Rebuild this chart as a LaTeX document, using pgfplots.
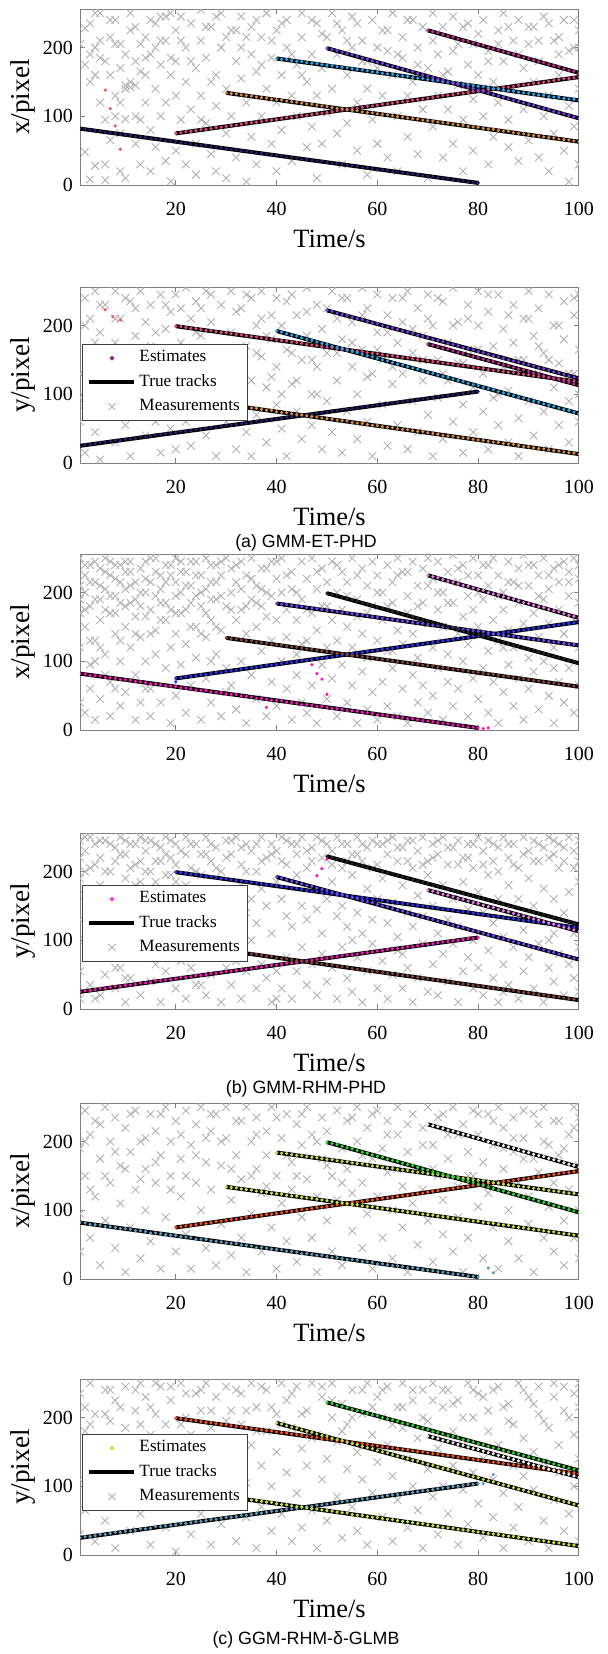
\documentclass[border=0pt]{standalone}
\usepackage{fontspec}
\setmainfont{Liberation Serif}
\newfontfamily\capfam{Liberation Sans}
\usepackage{pgfplots}
\pgfplotsset{compat=1.18}
\usepackage{pgfplotstable}

\definecolor{aT1}{RGB}{40,30,110}
\definecolor{aT2}{RGB}{225,70,130}
\definecolor{aT3}{RGB}{215,140,60}
\definecolor{aT4}{RGB}{30,170,240}
\definecolor{aT5}{RGB}{120,60,240}
\definecolor{aT6}{RGB}{200,40,150}
\definecolor{aOut}{RGB}{235,90,90}
\definecolor{aLeg}{RGB}{140,40,130}
\definecolor{bT1}{RGB}{255,20,190}
\definecolor{bT2}{RGB}{40,50,250}
\definecolor{bT3}{RGB}{130,70,60}
\definecolor{bT4}{RGB}{110,70,255}
\definecolor{bT5}{RGB}{35,35,35}
\definecolor{bT6}{RGB}{240,120,240}
\definecolor{bLeg}{RGB}{255,60,200}
\definecolor{cT1}{RGB}{90,160,190}
\definecolor{cT2}{RGB}{255,80,20}
\definecolor{cT3}{RGB}{200,230,60}
\definecolor{cT4}{RGB}{190,220,70}
\definecolor{cT5}{RGB}{40,220,40}
\definecolor{cT6}{RGB}{235,235,225}
\definecolor{cLeg}{RGB}{200,230,60}

\pgfplotstableread{
t x y
1 82 25
2 81.5 26.5
3 79.5 27
4 79 28
5 78.5 30
6 76.5 30
7 76 31.5
8 75 33
9 73.5 33
10 73 34.5
11 72.5 35
12 70.5 36
13 70 38
14 69 38
15 67 39
16 67 41.5
17 66 41
18 64.5 42.5
19 64 43
20 63.5 44
21 61.5 46
22 61 46
23 60 47
24 58 48.5
25 58 49
26 57.5 50
27 55.5 51.5
28 55 52
29 54 53.5
30 52.5 54.5
31 52 55
32 51.5 56
33 49.5 57.5
34 49 58
35 48 59
36 46 60.5
37 46 61
38 45 62.5
39 43.5 63.5
40 43 64
41 42.5 65
42 40.5 66.5
43 40 67
44 39 68
45 37 69.5
46 37 70
47 36 71
48 34.5 72.5
49 34.5 73
50 33 74
51 31.5 75.5
52 31 76
53 30 77.5
54 28.5 78.5
55 28 79
56 27.5 80
57 25.5 81.5
58 25 82
59 24 83
60 22 84.5
61 22 85
62 21 86.5
63 19.5 87.5
64 19 88
65 18 89
66 16.5 90.5
67 16.5 91
68 15 92
69 13.5 93.5
70 13 94
71 12 95
72 10.5 96.5
73 10 97.5
74 9 98
75 7.5 99.5
76 7 100
77 6 101
78 4.5 102.5
79 4 103
80 3 104
}\TrA

\pgfplotstableread{
t x y
20 75 199
21 76 198.5
22 77.5 197
23 78 196
24 79 195.5
25 80.5 194
26 81 193
27 82 192.5
28 83.5 191
29 84 190
30 85.5 189.5
31 86.5 188
32 87 187
33 88.5 186.5
34 90 185
35 90.5 184
36 91.5 183.5
37 92.5 182
38 94 181
39 94.5 180.5
40 95.5 179
41 96.5 178
42 98 177.5
43 98.5 176
44 99.5 175
45 101 174
46 101.5 172.5
47 102.5 171.5
48 104 171
49 104.5 169.5
50 105.5 168.5
51 106.5 168
52 108 166.5
53 109 165.5
54 110 165
55 111.5 163.5
56 112 162.5
57 113 162
58 114.5 160.5
59 115 159.5
60 116 159
61 117.5 157.5
62 118 156.5
63 119 156
64 120.5 154.5
65 121 153.5
66 122 153
67 123.5 151.5
68 124 150.5
69 125 150
70 126.5 148.5
71 127.5 147.5
72 128.5 147
73 130 145.5
74 130.5 144.5
75 131.5 144
76 133 142.5
77 133.5 141.5
78 134.5 141
79 136 139.5
80 136.5 138.5
81 137.5 137.5
82 139 136
83 139.5 135
84 140.5 134.5
85 142 133
86 142.5 132
87 143.5 131.5
88 145 130
89 145.5 129
90 146.5 128.5
91 148 127
92 148.5 126
93 149.5 125.5
94 151 124
95 152 123
96 153 122.5
97 154.5 121
98 155 120
99 156 119.5
100 157 118
}\TrB

\pgfplotstableread{
t x y
30 134 85
31 133 84
32 132.5 83
33 131 82.5
34 130 81
35 129.5 80
36 128 79.5
37 127 78
38 126.5 77
39 125 76.5
40 124 74.5
41 123.5 73.5
42 122 73
43 121 71.5
44 120.5 70.5
45 119 70
46 118 68.5
47 117.5 67.5
48 116 67
49 115 65.5
50 114 64.5
51 112.5 64
52 111.5 62.5
53 111 61.5
54 109.5 61
55 108.5 59
56 108 58
57 106.5 57.5
58 105.5 56
59 105 55
60 103.5 54.5
61 102.5 53
62 102 52
63 100.5 51.5
64 99.5 50
65 99 49
66 97.5 48.5
67 96.5 47
68 96 46
69 94.5 45.5
70 93.5 44
71 93 43
72 91.5 42
73 90.5 40.5
74 90 39.5
75 88.5 39
76 87.5 37.5
77 87 36.5
78 85.5 36
79 84.5 34.5
80 84 33.5
81 82.5 33
82 81.5 31.5
83 81 30.5
84 79.5 30
85 78.5 28.5
86 78 27.5
87 76 27
88 75 25.5
89 74.5 24
90 73 23.5
91 72 22
92 71.5 21
93 70 20.5
94 69 19
95 68.5 18
96 67 17.5
97 66 16
98 65.5 15
99 64 14.5
100 63 13
}\TrC

\pgfplotstableread{
t x y
40 184 192
41 183 190.5
42 182.5 188
43 181 186
44 180 184.5
45 179.5 182
46 178 180
47 177 178.5
48 176.5 176
49 175 174
50 174 172.5
51 173.5 170
52 172 168
53 171 166.5
54 170.5 164
55 169 162
56 168 160.5
57 167.5 158
58 166 156
59 164.5 154.5
60 164 152
61 162.5 150
62 161.5 148.5
63 161 146
64 159.5 144
65 158.5 142.5
66 158 140
67 156.5 138
68 155.5 136.5
69 155 134
70 153.5 132
71 152.5 130.5
72 152 128
73 150.5 126
74 149.5 124.5
75 149 122
76 147.5 120
77 146.5 118.5
78 146 116
79 144.5 114
80 143.5 112.5
81 143 110
82 141.5 108
83 140 106.5
84 139.5 104
85 138 102
86 137 100.5
87 136.5 98
88 135 96
89 134 94.5
90 133.5 92
91 132 90
92 131 88.5
93 130.5 86
94 129 84
95 128 82.5
96 127.5 80
97 126 78
98 125 76.5
99 124.5 74
100 123 72
}\TrD

\pgfplotstableread{
t x y
50 199 222
51 197 220.5
52 195.5 218
53 193 216
54 191 214.5
55 189.5 212
56 187 210
57 184.5 208.5
58 183 206
59 180.5 204
60 178.5 202.5
61 177 200
62 174.5 198
63 172.5 196.5
64 171 194.5
65 168.5 192
66 166.5 190.5
67 165 188.5
68 162.5 186
69 160 184.5
70 158.5 182.5
71 156 180
72 154 178.5
73 152.5 176.5
74 150 174
75 148 172.5
76 146.5 170.5
77 144 168
78 142 166.5
79 140.5 164.5
80 138 162
81 136 160.5
82 134 158.5
83 131.5 156
84 129.5 154.5
85 128 152.5
86 125.5 150
87 123.5 148.5
88 122 147
89 119.5 144.5
90 117.5 143
91 116 141
92 113.5 138.5
93 111.5 137
94 110 135
95 107 132.5
96 105 131
97 103.5 129
98 101 126.5
99 99 125
100 97 123
}\TrE

\pgfplotstableread{
t x y
70 225 173
71 223 171.5
72 221.5 169
73 219 167
74 216.5 165.5
75 215 163
76 212.5 161
77 210.5 159.5
78 209 157
79 206.5 155
80 204.5 153.5
81 203 151
82 200 149
83 198 147.5
84 196.5 145
85 194 143
86 192 141.5
87 190.5 139
88 188 137
89 185.5 135.5
90 184 133
91 181.5 131
92 179.5 129.5
93 178 127
94 175.5 125
95 173.5 123.5
96 172 121
97 169 119
98 167 117.5
99 165.5 115
100 163 113
}\TrF

\pgfplotsset{
  panel/.style={
    scale only axis, width=249.5pt, height=88pt,
    xmin=1, xmax=100, ymin=0, ymax=256,
    xtick={20,40,60,80,100}, ytick={0,100,200},
    tick align=inside, major tick length=2.5pt,
    xtick pos=both, ytick pos=both, xticklabel pos=lower, yticklabel pos=left,
    axis line style={black!50, line width=0.5pt},
    tick style={black!50, line width=0.5pt},
    ticklabel style={font=\fontsize{10}{12}\selectfont, text=black},
    xticklabel style={yshift=-5.2pt},
    /pgf/number format/assume math mode=true,
    xlabel={Time/s},
    xlabel style={at={(axis description cs:0.5,0)}, anchor=base, yshift=-31pt, font=\fontsize{13.2}{15}\selectfont, inner sep=0pt},
    ylabel style={at={(axis description cs:-0.1142,0.5)}, anchor=center, font=\fontsize{13.6}{15}\selectfont, inner sep=0pt},
    clip marker paths=true,
    legend cell align=left,
    legend style={anchor=north west, draw=black!75, line width=0.5pt, fill=white,
      font=\fontsize{8.6}{9}\selectfont, inner xsep=2.5pt, inner ysep=2pt, row sep=2.3pt,
      nodes={inner xsep=1.5pt, inner ysep=1pt, text depth=0.2em}},
  },
  clut/.style={only marks, mark=x, mark size=2.7pt, color=black!30, mark options={line width=0.45pt}, forget plot},
  trk/.style={black, line width=2pt, forget plot},
  est/.style={only marks, mark=*, mark size=0.6pt, color=#1, forget plot},
  legline/.style={legend image code/.code={\draw[##1] (0pt,0pt) -- (22.5pt,0pt);}},
  legmark/.style={legend image code/.code={\draw[##1] plot coordinates {(11.25pt,0pt)};}},
}

\begin{document}
\begin{tikzpicture}
\useasboundingbox (0,0) rectangle (304pt,-827pt);

% ---------------- Panel 1 : (a) x ----------------
\begin{axis}[panel, at={(40pt,-4.5pt)}, anchor=north west, ylabel={x/pixel}]
\addplot[clut] coordinates {(1,205)(2,228)(2,48)(3,190)(3,150)(3,8)(4,250)(4,200)(4,28)(5,185)(5,250)(5,120)(6,95)(6,30)(6,7)(7,215)(7,160)(7,65)(8,240)(8,130)(8,100)(9,205)(9,170)(9,75)(9,20)(10,190)(10,96)(10,145)(10,10)
(11,142)(11,225)(11,250)(12,100)(12,60)(12,180)(13,95)(13,205)(13,30)(14,185)(14,160)(14,120)(15,240)(15,80)(15,20)(16,200)(16,140)(16,55)(17,245)(17,175)(17,100)(18,210)(18,120)(18,35)(19,250)(19,160)(19,5)(20,225)(20,180)(20,50)(20,130)
(21,245)(21,95)(22,200)(22,150)(22,30)(23,235)(23,110)(24,170)(24,60)(24,15)(25,255)(25,210)(25,130)(26,185)(26,90)(27,230)(27,45)(28,160)(28,115)(28,20)(29,250)(29,200)(30,140)(30,75)(30,10)
(31,225)(31,100)(32,180)(32,40)(33,245)(33,155)(34,215)(34,120)(34,5)(35,190)(35,70)(36,240)(36,165)(36,30)(37,215)(37,100)(38,250)(38,140)(39,185)(39,60)(40,225)(40,120)(40,20)
(41,160)(41,80)(42,240)(42,200)(43,130)(43,35)(44,175)(44,100)(45,250)(45,215)(46,150)(46,55)(47,190)(47,85)(48,235)(48,130)(48,10)(49,170)(49,60)(50,215)(50,105)
(51,250)(51,140)(52,190)(52,75)(53,225)(53,30)(54,160)(54,90)(55,245)(55,200)(56,120)(56,50)(57,210)(57,180)(58,140)(58,15)(59,240)(59,95)(60,170)(60,60)
(61,225)(61,130)(62,195)(62,40)(63,250)(63,160)(64,100)(64,20)(65,215)(65,185)(66,130)(66,70)(67,240)(67,150)(68,200)(68,45)(69,110)(69,230)(70,170)(70,10)
(71,250)(71,85)(72,190)(72,130)(73,230)(73,40)(74,165)(74,110)(75,245)(75,60)(76,205)(76,145)(77,95)(77,20)(78,235)(78,175)(79,125)(79,50)(80,220)(80,160)
(81,240)(81,100)(82,195)(82,30)(83,150)(83,70)(84,225)(84,120)(85,250)(85,180)(86,55)(86,95)(87,210)(87,140)(88,240)(88,35)(89,170)(89,110)(90,205)(90,65)
(91,230)(91,150)(92,180)(92,40)(93,245)(93,100)(94,130)(94,20)(95,210)(95,75)(96,190)(96,160)(97,240)(97,50)(98,115)(98,5)(99,200)(99,85)(100,225)(100,140)(100,30)};
\addplot[clut] coordinates {(2,175)(3,235)(4,160)(5,210)(6,180)(7,240)(8,205)(9,120)(10,140)(11,150)(12,145)(12,230)(13,165)(14,215)(15,190)(16,235)(17,210)(18,245)(19,185)(21,210)(23,180)(25,95)(26,230)(27,150)(28,245)(30,215)(32,225)(33,200)(35,230)(37,175)(39,210)(41,235)(43,190)(45,160)(47,240)(49,220)(52,235)(54,210)(56,235)(58,180)(60,200)(62,225)(64,190)(66,240)(68,175)(71,210)(73,160)(75,195)(77,230)(79,205)(82,180)(84,205)(86,230)(88,190)(90,230)(92,210)(94,235)(96,215)(98,195)(99,240)(100,200)};
\addplot[trk] coordinates {(1,82)(80,3)};
\addplot[trk] coordinates {(20,75)(100,157)};
\addplot[trk] coordinates {(30,134)(100,63)};
\addplot[trk] coordinates {(40,184)(100,123)};
\addplot[trk] coordinates {(50,199)(100,97)};
\addplot[trk] coordinates {(70,225)(100,163)};
\addplot[est=aT1] table[x=t,y=x] {\TrA};
\addplot[est=aT2] table[x=t,y=x] {\TrB};
\addplot[est=aT3] table[x=t,y=x] {\TrC};
\addplot[est=aT4] table[x=t,y=x] {\TrD};
\addplot[est=aT5] table[x=t,y=x] {\TrE};
\addplot[est=aT6] table[x=t,y=x] {\TrF};
\addplot[est=aOut] coordinates {(6,138)(7,111)(8,86)(9,52)};
\end{axis}

% ---------------- Panel 2 : (a) y ----------------
\begin{axis}[panel, at={(40pt,-143.5pt)}, anchor=north west, ylabel={y/pixel},
  legend style={at={(axis description cs:0.004,0.676)}}]
\addlegendimage{legmark, only marks, mark=*, mark size=0.9pt, color=aLeg}
\addlegendentry{Estimates}
\addlegendimage{legline, black, line width=2pt}
\addlegendentry{True tracks}
\addlegendimage{legmark, only marks, mark=x, mark size=2.5pt, color=black!30, mark options={line width=0.45pt}}
\addlegendentry{Measurements}
\addplot[clut] coordinates {(1,60)(1,130)(2,240)(2,85)(2,15)(3,210)(3,165)(4,100)(4,45)(4,250)(5,190)(5,5)(6,140)(6,230)(7,75)(7,120)(8,250)(8,175)(8,30)(9,95)(9,210)(10,160)(10,55)(11,235)(11,120)(11,10)(12,185)(12,70)(13,250)(13,140)(14,205)(14,40)(14,95)(15,170)(15,230)(16,60)(16,125)(17,245)(17,15)(18,195)(18,150)(18,90)(19,220)(19,50)(20,130)(20,245)(20,20)
(21,175)(21,100)(22,255)(22,60)(23,210)(23,150)(23,25)(24,120)(24,235)(25,80)(25,185)(26,250)(26,40)(27,140)(27,205)(28,100)(28,10)(29,230)(29,165)(30,60)(30,125)(31,250)(31,190)(32,20)(32,150)(33,225)(33,95)(34,45)(34,170)(35,240)(35,120)(35,10)(36,200)(36,70)(37,155)(37,250)(38,110)(38,30)(39,215)(39,180)(40,85)(40,240)(40,140)
(41,50)(41,200)(42,10)(42,165)(43,245)(43,115)(44,75)(44,215)(45,150)(45,35)(46,255)(46,185)(47,100)(47,55)(48,230)(48,140)(49,20)(49,195)(50,160)(50,90)(51,250)(51,45)(52,210)(52,120)(53,180)(53,15)(54,240)(54,75)(55,140)(55,205)(56,35)(56,100)(57,255)(57,165)(58,60)(58,225)(59,130)(59,10)(60,190)(60,245)
(61,85)(61,150)(62,215)(62,25)(63,115)(63,240)(64,175)(64,55)(65,205)(65,130)(66,250)(66,20)(67,90)(67,160)(68,225)(68,45)(69,185)(69,120)(70,245)(70,70)(71,10)(71,200)(72,150)(72,95)(73,235)(73,35)(74,175)(74,120)(75,255)(75,60)(76,205)(76,145)(77,85)(77,15)(78,230)(78,165)(79,110)(79,45)(80,200)(80,250)
(81,130)(81,75)(82,220)(82,20)(83,170)(83,95)(84,245)(84,55)(85,195)(85,140)(86,30)(86,105)(87,230)(87,175)(88,65)(88,10)(89,210)(89,150)(90,250)(90,90)(91,40)(91,185)(92,130)(92,225)(93,75)(93,160)(94,245)(94,20)(95,200)(95,110)(96,145)(96,55)(97,235)(97,180)(98,90)(98,30)(99,215)(99,130)(100,245)(100,165)(100,60)(100,100)};
\addplot[clut] coordinates {(1,95)(2,200)(3,120)(4,175)(5,230)(6,100)(7,160)(8,210)(9,140)(10,240)(11,70)(12,225)(13,105)(14,160)(15,125)(16,190)(17,85)(18,230)(19,140)(21,225)(22,135)(23,75)(24,190)(25,225)(26,110)(27,245)(28,160)(29,100)(31,145)(32,220)(33,130)(34,245)(36,160)(37,210)(38,185)(39,125)(41,100)(42,235)(43,160)(44,120)(46,220)(47,150)(48,100)(50,225)(52,160)(53,240)(55,175)(57,215)(58,125)(60,165)(62,190)(63,140)(65,240)(67,195)(69,150)(70,210)(72,240)(73,130)(75,200)(77,145)(78,210)(80,165)(82,245)(84,100)(86,215)(88,150)(90,210)(92,170)(94,150)(96,200)(98,130)(99,240)};
\addplot[trk] coordinates {(1,25)(80,104)};
\addplot[trk] coordinates {(20,199)(100,118)};
\addplot[trk] coordinates {(30,85)(100,13)};
\addplot[trk] coordinates {(40,192)(100,72)};
\addplot[trk] coordinates {(50,222)(100,123)};
\addplot[trk] coordinates {(70,173)(100,113)};
\addplot[est=aT1] table[x=t,y=y] {\TrA};
\addplot[est=aT2] table[x=t,y=y] {\TrB};
\addplot[est=aT3] table[x=t,y=y] {\TrC};
\addplot[est=aT4] table[x=t,y=y] {\TrD};
\addplot[est=aT5] table[x=t,y=y] {\TrE};
\addplot[est=aT6] table[x=t,y=y] {\TrF};
\addplot[est=aOut] coordinates {(6,223)(7.5,213)(9,208)};
\end{axis}

% ---------------- Panel 3 : (b) x ----------------
\begin{axis}[panel, at={(40pt,-277pt)}, anchor=north west, ylabel={x/pixel}]
\addplot[clut] coordinates {(1,250)(1,170)(1,120)(1,40)(2,225)(2,200)(2,150)(2,25)(3,240)(3,180)(3,95)(3,60)(4,215)(4,130)(4,15)(5,235)(5,190)(5,160)(5,45)(6,250)(6,205)(6,110)(7,225)(7,170)(7,70)(7,20)(8,240)(8,195)(8,140)(9,215)(9,100)(9,35)(10,230)(10,180)(10,150)(10,55)
(11,245)(11,210)(11,120)(12,190)(12,165)(12,80)(12,15)(13,235)(13,135)(13,40)(14,220)(14,200)(14,100)(15,250)(15,175)(15,60)(15,20)(16,230)(16,145)(16,110)(17,205)(17,185)(17,40)(18,240)(18,160)(18,90)(19,225)(19,120)(19,10)(20,250)(20,195)(20,140)(20,50)
(21,230)(21,170)(21,95)(22,210)(22,125)(22,25)(23,245)(23,185)(23,65)(24,225)(24,150)(24,105)(25,200)(25,180)(25,15)(26,250)(26,135)(26,75)(27,215)(27,160)(27,40)(28,240)(28,190)(28,110)(29,225)(29,145)(29,20)(30,180)(30,250)(30,90)(30,55)
(31,235)(31,200)(31,65)(32,215)(32,160)(32,30)(33,245)(33,175)(33,100)(34,225)(34,140)(34,10)(35,190)(35,250)(35,80)(36,210)(36,150)(36,45)(37,235)(37,180)(37,115)(38,200)(38,165)(38,20)(39,245)(39,130)(39,70)(40,220)(40,160)(40,35)
(41,250)(41,200)(41,100)(42,175)(42,135)(42,60)(43,230)(43,205)(43,15)(44,160)(44,110)(44,80)(45,245)(45,190)(45,40)(46,220)(46,130)(46,25)(47,250)(47,170)(47,65)(48,205)(48,145)(48,10)(49,235)(49,180)(49,95)(50,215)(50,120)(50,45)
(51,245)(51,160)(51,75)(52,200)(52,130)(52,20)(53,230)(53,175)(53,95)(54,215)(54,150)(54,40)(55,250)(55,120)(55,65)(56,190)(56,165)(56,10)(57,235)(57,140)(57,85)(58,210)(58,105)(58,30)(59,245)(59,180)(59,55)(60,225)(60,130)(60,15)
(61,200)(61,160)(61,70)(62,240)(62,115)(62,35)(63,215)(63,185)(63,90)(64,250)(64,145)(64,20)(65,230)(65,125)(65,60)(66,195)(66,170)(66,10)(67,245)(67,140)(67,80)(68,210)(68,105)(68,40)(69,235)(69,185)(69,65)(70,250)(70,155)(70,25)
(71,220)(71,120)(71,50)(72,245)(72,175)(72,90)(73,200)(73,150)(73,15)(74,230)(74,110)(74,70)(75,255)(75,185)(75,35)(76,215)(76,140)(76,60)(77,240)(77,165)(77,100)(78,195)(78,125)(78,20)(79,250)(79,175)(79,75)(80,225)(80,150)(80,45)
(81,240)(81,190)(81,90)(82,210)(82,115)(82,25)(83,250)(83,160)(83,70)(84,225)(84,130)(84,10)(85,200)(85,175)(85,55)(86,245)(86,145)(86,95)(87,215)(87,120)(87,35)(88,235)(88,185)(88,75)(89,255)(89,155)(89,15)(90,210)(90,105)(90,60)
(91,240)(91,170)(91,85)(92,225)(92,135)(92,30)(93,250)(93,190)(93,100)(94,205)(94,155)(94,50)(95,235)(95,120)(95,10)(96,215)(96,175)(96,70)(97,245)(97,140)(97,40)(98,230)(98,195)(98,90)(99,250)(99,160)(99,25)(100,220)(100,120)(100,65)(100,185)};
\addplot[clut] coordinates {(1,210)(1,190)(2,175)(2,240)(3,215)(3,130)(4,245)(4,190)(4,100)(5,210)(5,120)(6,230)(6,175)(6,80)(7,245)(7,195)(8,220)(8,170)(8,60)(9,240)(9,185)(9,130)(10,205)(10,245)(11,185)(11,230)(12,215)(12,140)(13,200)(13,180)(14,245)(14,165)(15,215)(15,140)(16,195)(16,250)(17,225)(17,160)(18,215)(18,185)(19,240)(19,175)(20,215)(20,170)(21,200)(21,245)(22,175)(22,230)(23,210)(23,150)(24,195)(24,245)(25,225)(25,140)(26,205)(26,170)(27,240)(27,190)(28,215)(28,150)(29,195)(29,245)(31,175)(32,240)(33,205)(34,180)(35,220)(36,185)(37,205)(38,235)(39,195)(40,245)(42,225)(44,200)(46,175)(48,230)(50,180)(52,240)(54,195)(56,225)(58,170)(60,200)(62,180)(64,225)(66,230)(68,180)(70,210)(72,200)(74,185)(76,235)(78,225)(80,200)(82,240)(84,195)(86,215)(88,210)(90,240)(92,195)(94,225)(96,240)(98,215)(100,240)(14,60)(27,100)(45,125)(63,115)(85,120)(95,90)};
\addplot[trk] coordinates {(1,82)(80,3)};
\addplot[trk] coordinates {(20,75)(100,157)};
\addplot[trk] coordinates {(30,134)(100,63)};
\addplot[trk] coordinates {(40,184)(100,123)};
\addplot[trk] coordinates {(50,199)(100,97)};
\addplot[trk] coordinates {(70,225)(100,163)};
\addplot[est=bT1] table[x=t,y=x] {\TrA};
\addplot[est=bT2] table[x=t,y=x] {\TrB};
\addplot[est=bT3] table[x=t,y=x] {\TrC};
\addplot[est=bT4] table[x=t,y=x] {\TrD};
\addplot[est=bT5] table[x=t,y=x] {\TrE};
\addplot[est=bT6] table[x=t,y=x] {\TrF};
\addplot[est=bT1] coordinates {(38,33)(47,95)(48,82)(49,74)(50,52)(81,2)(82,3)};
\addplot[est=bT2] coordinates {(20,70)};
\end{axis}

% ---------------- Panel 4 : (b) y ----------------
\begin{axis}[panel, at={(40pt,-416.5pt)}, anchor=north west, ylabel={y/pixel},
  legend style={at={(axis description cs:0.004,0.705)}}]
\addlegendimage{legmark, only marks, mark=*, mark size=0.9pt, color=bLeg}
\addlegendentry{Estimates}
\addlegendimage{legline, black, line width=2pt}
\addlegendentry{True tracks}
\addlegendimage{legmark, only marks, mark=x, mark size=2.5pt, color=black!30, mark options={line width=0.45pt}}
\addlegendentry{Measurements}
\addplot[clut] coordinates {(1,245)(1,190)(1,55)(1,15)(2,230)(2,165)(2,100)(3,250)(3,205)(3,35)(4,240)(4,140)(4,75)(5,220)(5,180)(5,20)(6,245)(6,120)(6,50)(7,200)(7,160)(7,85)(8,235)(8,215)(8,30)(9,250)(9,145)(9,60)(10,225)(10,190)(10,10)(10,95)
(11,240)(11,170)(11,45)(12,210)(12,130)(12,75)(13,250)(13,185)(13,20)(14,230)(14,155)(14,90)(15,245)(15,200)(15,40)(16,215)(16,120)(16,65)(17,235)(17,175)(17,10)(18,250)(18,140)(18,55)(19,220)(19,195)(19,85)(20,240)(20,160)(20,30)
(21,230)(21,125)(21,70)(22,250)(22,180)(22,15)(23,205)(23,145)(23,60)(24,240)(24,115)(24,35)(25,225)(25,195)(25,85)(26,250)(26,155)(26,20)(27,215)(27,170)(27,50)(28,235)(28,130)(28,95)(29,200)(29,175)(29,10)(30,245)(30,140)(30,60)
(31,225)(31,155)(31,35)(32,250)(32,120)(32,70)(33,210)(33,180)(33,15)(34,240)(34,140)(34,55)(35,230)(35,160)(35,100)(36,200)(36,125)(36,30)(37,250)(37,175)(37,65)(38,220)(38,150)(38,45)(39,240)(39,110)(39,10)(40,230)(40,185)(40,55)
(41,250)(41,160)(41,30)(42,210)(42,135)(42,75)(43,240)(43,120)(43,15)(44,225)(44,195)(44,55)(45,250)(45,150)(45,90)(46,205)(46,130)(46,35)(47,235)(47,175)(47,65)(48,250)(48,145)(48,20)(49,220)(49,110)(49,80)(50,240)(50,160)(50,40)
(51,230)(51,185)(51,60)(52,250)(52,135)(52,15)(53,205)(53,150)(53,90)(54,240)(54,120)(54,45)(55,225)(55,195)(55,25)(56,250)(56,140)(56,75)(57,215)(57,110)(57,10)(58,235)(58,175)(58,55)(59,245)(59,130)(59,95)(60,210)(60,160)(60,30)
(61,240)(61,190)(61,70)(62,225)(62,125)(62,15)(63,250)(63,155)(63,50)(64,215)(64,105)(64,85)(65,235)(65,180)(65,30)(66,245)(66,140)(66,60)(67,205)(67,120)(67,10)(68,230)(68,165)(68,45)(69,250)(69,135)(69,95)(70,215)(70,195)(70,25)
(71,240)(71,150)(71,65)(72,225)(72,110)(72,20)(73,250)(73,180)(73,80)(74,210)(74,130)(74,40)(75,235)(75,160)(75,95)(76,245)(76,120)(76,10)(77,220)(77,185)(77,55)(78,240)(78,145)(78,75)(79,205)(79,100)(79,30)(80,250)(80,170)(80,60)
(81,230)(81,140)(81,20)(82,245)(82,195)(82,85)(83,215)(83,125)(83,45)(84,235)(84,160)(84,10)(85,250)(85,105)(85,65)(86,220)(86,180)(86,35)(87,240)(87,135)(87,90)(88,205)(88,160)(88,15)(89,250)(89,115)(89,55)(90,230)(90,190)(90,75)
(91,245)(91,150)(91,30)(92,215)(92,130)(92,95)(93,235)(93,175)(93,10)(94,250)(94,100)(94,60)(95,225)(95,160)(95,40)(96,240)(96,205)(96,80)(97,215)(97,140)(97,20)(98,250)(98,170)(98,65)(99,230)(99,110)(99,45)(100,245)(100,185)(100,90)(100,25)};
\addplot[clut] coordinates {(1,220)(1,130)(2,250)(2,200)(3,170)(3,110)(4,210)(4,15)(5,245)(5,150)(6,200)(6,90)(7,240)(7,125)(8,175)(8,60)(9,225)(9,110)(10,245)(10,160)(11,205)(11,115)(12,240)(12,180)(13,215)(13,150)(14,200)(14,245)(15,175)(15,130)(16,240)(16,185)(17,215)(17,140)(18,195)(18,225)(19,245)(19,160)(20,210)(20,185)(22,225)(23,240)(24,200)(26,225)(27,240)(28,205)(30,220)(31,245)(33,235)(34,200)(36,240)(37,215)(39,225)(41,215)(42,245)(44,240)(46,230)(47,215)(49,245)(51,210)(53,240)(54,215)(56,225)(57,240)(59,205)(60,240)(62,245)(64,235)(66,215)(67,245)(69,210)(71,220)(72,245)(74,235)(76,210)(78,220)(79,240)(81,210)(83,240)(84,200)(86,240)(87,210)(89,225)(91,215)(92,240)(94,220)(95,245)(97,235)(99,205)(100,215)(10,45)(25,35)(40,15)(55,100)(65,80)(85,25)(95,110)};
\addplot[trk] coordinates {(1,25)(80,104)};
\addplot[trk] coordinates {(20,199)(100,118)};
\addplot[trk] coordinates {(30,85)(100,13)};
\addplot[trk] coordinates {(40,192)(100,72)};
\addplot[trk] coordinates {(50,222)(100,123)};
\addplot[trk] coordinates {(70,173)(100,113)};
\addplot[est=bT1] table[x=t,y=y] {\TrA};
\addplot[est=bT2] table[x=t,y=y] {\TrB};
\addplot[est=bT3] table[x=t,y=y] {\TrC};
\addplot[est=bT4] table[x=t,y=y] {\TrD};
\addplot[est=bT5] table[x=t,y=y] {\TrE};
\addplot[est=bT6] table[x=t,y=y] {\TrF};
\addplot[est=bT1] coordinates {(48,194)(49,204)(50,218)};
\end{axis}

% ---------------- Panel 5 : (c) x ----------------
\begin{axis}[panel, at={(40pt,-551.5pt)}, anchor=north west, ylabel={x/pixel}]
\addplot[clut] coordinates {(1,190)(1,95)(1,40)(2,245)(2,150)(3,210)(3,60)(4,120)(4,230)(5,175)(5,20)(6,250)(6,85)(7,140)(7,200)(8,45)(8,235)(9,110)(9,165)(10,10)(10,220)(11,185)(11,75)(12,245)(12,130)(13,30)(13,200)(14,160)(14,100)(15,240)(15,55)(16,215)(16,140)(17,15)(17,180)(18,250)(18,90)(19,150)(19,200)(20,40)(20,230)
(21,120)(21,175)(22,245)(22,65)(23,195)(23,15)(24,140)(24,225)(25,100)(25,250)(26,170)(26,45)(27,215)(27,130)(28,240)(28,20)(29,165)(29,80)(30,205)(30,250)(31,115)(31,35)(32,230)(32,180)(33,60)(33,145)(34,250)(34,10)(35,200)(35,95)(36,160)(36,235)(37,40)(37,125)(38,215)(38,180)(39,75)(39,250)(40,150)(40,15)
(41,205)(41,110)(42,240)(42,55)(43,170)(43,130)(44,225)(44,25)(45,90)(45,195)(46,250)(46,145)(47,60)(47,210)(48,120)(48,10)(49,235)(49,175)(50,85)(50,215)(51,40)(51,150)(52,245)(52,115)(53,190)(53,20)(54,160)(54,230)(55,70)(55,125)(56,250)(56,200)(57,45)(57,140)(58,220)(58,95)(59,175)(59,15)(60,245)(60,120)
(61,60)(61,190)(62,230)(62,155)(63,30)(63,100)(64,210)(64,250)(65,135)(65,75)(66,185)(66,10)(67,240)(67,110)(68,160)(68,50)(69,220)(69,130)(70,250)(70,85)(71,195)(71,25)(72,150)(72,235)(73,65)(73,115)(74,210)(74,175)(75,40)(75,250)(76,135)(76,90)(77,225)(77,10)(78,185)(78,60)(79,245)(79,150)(80,105)(80,210)
(81,30)(81,170)(82,240)(82,125)(83,75)(83,195)(84,250)(84,15)(85,160)(85,220)(86,55)(86,100)(87,235)(87,185)(88,140)(88,30)(89,205)(89,245)(90,80)(90,120)(91,175)(91,10)(92,225)(92,155)(93,60)(93,250)(94,195)(94,105)(95,40)(95,140)(96,230)(96,180)(97,85)(97,20)(98,210)(98,130)(99,250)(99,60)(100,165)(100,100)(100,30)(100,235)};
\addplot[clut] coordinates {(2,200)(3,130)(5,225)(6,150)(8,185)(10,160)(11,240)(13,145)(14,205)(16,170)(17,240)(19,130)(21,210)(22,150)(24,180)(26,205)(27,240)(29,200)(31,160)(33,230)(35,150)(36,210)(38,135)(40,235)(42,180)(44,150)(45,240)(48,200)(50,165)(53,140)(55,235)(57,180)(59,240)(62,210)(64,160)(66,225)(69,195)(71,160)(73,240)(76,210)(78,150)(80,240)(83,230)(85,190)(87,205)(89,175)(91,240)(93,200)(95,230)(97,190)(99,220)};
\addplot[trk] coordinates {(1,82)(80,3)};
\addplot[trk] coordinates {(20,75)(100,157)};
\addplot[trk] coordinates {(30,134)(100,63)};
\addplot[trk] coordinates {(40,184)(100,123)};
\addplot[trk] coordinates {(50,199)(100,97)};
\addplot[trk] coordinates {(70,225)(100,163)};
\addplot[est=cT1] table[x=t,y=x] {\TrA};
\addplot[est=cT2] table[x=t,y=x] {\TrB};
\addplot[est=cT3] table[x=t,y=x] {\TrC};
\addplot[est=cT4] table[x=t,y=x] {\TrD};
\addplot[est=cT5] table[x=t,y=x] {\TrE};
\addplot[est=cT6] table[x=t,y=x] {\TrF};
\addplot[est=cT1] coordinates {(82,16)(83,9)};
\end{axis}

% ---------------- Panel 6 : (c) y ----------------
\begin{axis}[panel, at={(40pt,-689.5pt)}, anchor=north west, ylabel={y/pixel},
  legend style={at={(axis description cs:0.004,0.6875)}}]
\addlegendimage{legmark, only marks, mark=*, mark size=0.9pt, color=cLeg}
\addlegendentry{Estimates}
\addlegendimage{legline, black, line width=2pt}
\addlegendentry{True tracks}
\addlegendimage{legmark, only marks, mark=x, mark size=2.5pt, color=black!30, mark options={line width=0.45pt}}
\addlegendentry{Measurements}
\addplot[clut] coordinates {(1,235)(1,110)(1,30)(2,180)(2,65)(3,250)(3,140)(4,205)(4,20)(5,95)(5,165)(6,240)(6,50)(7,125)(7,195)(8,10)(8,225)(9,150)(9,80)(10,245)(10,185)(11,35)(11,120)(12,210)(12,160)(13,60)(13,250)(14,100)(14,230)(15,175)(15,15)(16,135)(16,205)(17,245)(17,70)(18,190)(18,40)(19,120)(19,225)(20,160)(20,5)
(21,250)(21,90)(22,200)(22,140)(23,30)(23,175)(24,235)(24,110)(25,60)(25,210)(26,150)(26,250)(27,15)(27,185)(28,95)(28,230)(29,130)(29,45)(30,245)(30,170)(31,80)(31,210)(32,20)(32,140)(33,235)(33,190)(34,105)(34,55)(35,250)(35,160)(36,10)(36,215)(37,130)(37,70)(38,240)(38,180)(39,35)(39,100)(40,205)(40,150)
(41,250)(41,60)(42,120)(42,225)(43,185)(43,20)(44,90)(44,245)(45,155)(45,40)(46,210)(46,130)(47,65)(47,250)(48,175)(48,10)(49,230)(49,110)(50,140)(50,50)(51,200)(51,250)(52,85)(52,165)(53,25)(53,220)(54,125)(54,190)(55,240)(55,70)(56,150)(56,35)(57,205)(57,110)(58,250)(58,15)(59,175)(59,90)(60,230)(60,135)
(61,55)(61,200)(62,160)(62,245)(63,20)(63,115)(64,215)(64,80)(65,185)(65,250)(66,140)(66,40)(67,225)(67,100)(68,65)(68,170)(69,240)(69,10)(70,195)(70,125)(71,85)(71,250)(72,155)(72,30)(73,215)(73,100)(74,240)(74,60)(75,180)(75,130)(76,15)(76,225)(77,95)(77,160)(78,250)(78,45)(79,200)(79,120)(80,75)(80,235)
(81,140)(81,25)(82,210)(82,180)(83,55)(83,110)(84,245)(84,160)(85,10)(85,90)(86,220)(86,195)(87,130)(87,40)(88,250)(88,70)(89,170)(89,115)(90,230)(90,20)(91,150)(91,95)(92,205)(92,245)(93,50)(93,135)(94,185)(94,10)(95,230)(95,80)(96,160)(96,120)(97,245)(97,35)(98,200)(98,60)(99,100)(99,175)(100,250)(100,140)(100,20)(100,215)};
\addplot[clut] coordinates {(2,215)(3,190)(4,160)(6,205)(7,240)(9,215)(10,130)(12,240)(13,190)(15,215)(16,250)(18,160)(19,245)(21,190)(22,235)(24,165)(25,240)(27,210)(28,150)(30,195)(32,240)(34,210)(36,180)(37,245)(39,215)(41,190)(43,235)(45,205)(47,170)(49,245)(51,225)(53,180)(55,200)(57,240)(59,215)(61,240)(63,190)(65,215)(67,240)(69,200)(71,225)(73,240)(75,220)(77,200)(79,240)(81,230)(83,240)(85,215)(87,190)(89,240)(91,220)(93,195)(95,250)(97,210)(99,235)};
\addplot[trk] coordinates {(1,25)(80,104)};
\addplot[trk] coordinates {(20,199)(100,118)};
\addplot[trk] coordinates {(30,85)(100,13)};
\addplot[trk] coordinates {(40,192)(100,72)};
\addplot[trk] coordinates {(50,222)(100,123)};
\addplot[trk] coordinates {(70,173)(100,113)};
\addplot[est=cT1] table[x=t,y=y] {\TrA};
\addplot[est=cT2] table[x=t,y=y] {\TrB};
\addplot[est=cT3] table[x=t,y=y] {\TrC};
\addplot[est=cT4] table[x=t,y=y] {\TrD};
\addplot[est=cT5] table[x=t,y=y] {\TrE};
\addplot[est=cT6] table[x=t,y=y] {\TrF};
\addplot[est=cT1] coordinates {(81,104)(83,117)};
\end{axis}

\node[font=\capfam\fontsize{8.9}{10}\selectfont, anchor=base] at (153pt,-273.5pt) {(a) GMM-ET-PHD};
\node[font=\capfam\fontsize{8.9}{10}\selectfont, anchor=base] at (153pt,-546.5pt) {(b) GMM-RHM-PHD};
\node[font=\capfam\fontsize{8.9}{10}\selectfont, anchor=base] at (153pt,-822pt) {(c) GGM-RHM-δ-GLMB};
\end{tikzpicture}
\end{document}
